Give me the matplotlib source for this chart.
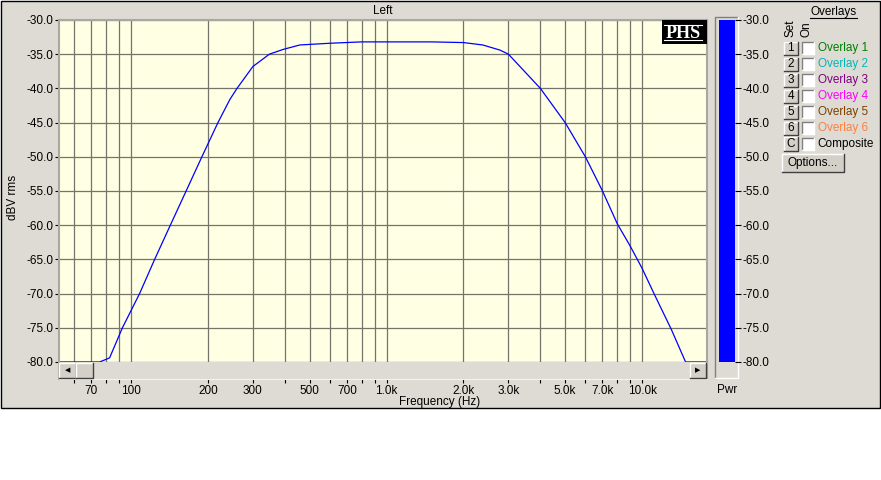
import matplotlib
matplotlib.use("Agg")
import matplotlib.pyplot as plt
from matplotlib.patches import Rectangle
from matplotlib.lines import Line2D

# measured response, Left channel
freq_hz = [52.3, 75.4, 82.5, 92.6, 108.1, 123.8, 142.6, 164.4, 189.5, 219, 244, 260,
           300, 348, 394, 458, 600, 800, 1000, 1500, 2000, 2380, 2780, 3000,
           4000, 5000, 6000, 7000, 8000, 9000, 10000, 11200, 13000, 14800, 17900]
level_db = [-80, -80, -79.4, -75, -70, -65, -60, -55, -50, -45, -41.6, -40,
            -36.8, -35, -34.3, -33.65, -33.4, -33.2, -33.2, -33.2, -33.3, -33.65, -34.4, -35.0,
            -40, -45, -50, -55, -59.8, -63.1, -66.3, -70.2, -75.2, -80, -80]
pwr_level = -30.0

major_f = [70, 100, 200, 300, 500, 700, 1000, 2000, 3000, 5000, 7000, 10000]
major_lbl = ['70', '100', '200', '300', '500', '700', '1.0k', '2.0k', '3.0k', '5.0k', '7.0k', '10.0k']
minor_f = [60, 80, 90, 400, 600, 800, 900, 4000, 6000, 8000, 9000]
y_ticks = [-30, -35, -40, -45, -50, -55, -60, -65, -70, -75, -80]

overlay_names = ['Overlay 1', 'Overlay 2', 'Overlay 3', 'Overlay 4', 'Overlay 5', 'Overlay 6', 'Composite']
overlay_keys = ['1', '2', '3', '4', '5', '6', 'C']
overlay_colors = ['#008000', '#00b8b8', '#800080', '#ff00ff', '#804000', '#ff8040', 'black']

plt.rcParams['font.family'] = ['Liberation Sans', 'DejaVu Sans']
plt.rcParams['font.size'] = 8.5

W, H = 881, 480
PANEL = '#dddbd3'
GRID = '#74746c'


def box(x0, y0, x1, y1):
    return [x0 / W, 1 - y1 / H, (x1 - x0) / W, (y1 - y0) / H]


def fx(x):
    return x / W


def fy(y):
    return 1 - y / H


def bevel(fig, x0, y0, x1, y1, raised=True, face='#d4d0c8', z=5):
    fig.add_artist(Rectangle((fx(x0), fy(y1)), (x1 - x0) / W, (y1 - y0) / H,
                             transform=fig.transFigure, facecolor=face, edgecolor='none', zorder=z))
    light, dark = ('white', '#404040') if raised else ('#808080', 'white')
    fig.add_artist(Line2D([fx(x0), fx(x0), fx(x1)], [fy(y1), fy(y0), fy(y0)],
                          color=light, lw=1, transform=fig.transFigure, zorder=z))
    fig.add_artist(Line2D([fx(x0), fx(x1), fx(x1)], [fy(y1), fy(y1), fy(y0)],
                          color=dark, lw=1, transform=fig.transFigure, zorder=z))


fig = plt.figure(figsize=(W / 100, H / 100), dpi=100, facecolor='white')

# window panel
fig.add_artist(Rectangle((fx(0.5), fy(408)), 879.5 / W, 407.5 / H, transform=fig.transFigure,
                         facecolor=PANEL, edgecolor='black', lw=1, zorder=-10))

# main plot
ax = fig.add_axes(box(59, 20, 706.7, 362))
ax.set_facecolor('#ffffe4')
ax.semilogx(freq_hz, level_db, color='#0000ff', lw=0.9, clip_on=False, zorder=3)
ax.set_xlim(52.3, 17900)
ax.set_ylim(-80, -30)
ax.set_xticks(major_f)
ax.set_xticks(minor_f, minor=True)
ax.set_yticks(y_ticks)
ax.set_yticklabels(['%.1f' % v for v in y_ticks])
ax.grid(True, which='both', color=GRID, lw=0.9)
ax.tick_params(axis='x', which='both', length=0, labelbottom=False)
ax.tick_params(axis='y', length=3, width=0.8, pad=1.2, color='black')
for s in ['top', 'left', 'right']:
    ax.spines[s].set_color('#a8a8a0')
    ax.spines[s].set_linewidth(1.5)
ax.spines['bottom'].set_visible(False)
ax.set_title('Left', fontsize=8.5, pad=4)
fig.text(fx(13), fy(197), 'dBV rms', rotation=90, ha='center', va='center')

# PHS logo
ax.add_patch(Rectangle((0.9305, 0.930), 0.0715, 0.071, transform=ax.transAxes,
                       facecolor='black', edgecolor='none', zorder=5))
fig.text(fx(683), fy(33), 'PHS', color='white', fontsize=13, fontweight='bold',
         family='Liberation Serif', ha='center', va='center', zorder=6)
for yy in [25, 40]:
    fig.add_artist(Line2D([fx(664), fx(702)], [fy(yy), fy(yy)], color='white', lw=0.8,
                          transform=fig.transFigure, zorder=6))

# scroll strip with the frequency axis
sx = fig.add_axes(box(59, 362, 706.7, 379))
sx.set_facecolor(PANEL)
sx.set_xscale('log')
sx.set_xlim(52.3, 17900)
sx.set_yticks([])
sx.set_xticks(major_f)
sx.set_xticklabels(major_lbl)
sx.set_xticks(minor_f, minor=True)
sx.tick_params(axis='x', which='both', length=3, width=0.8, pad=1.5)
for s in ['left', 'right']:
    sx.spines[s].set_color('#a8a8a0')
    sx.spines[s].set_linewidth(1.5)
sx.spines['bottom'].set_color('#f4f4ee')
sx.spines['top'].set_visible(False)
fig.text(fx(440), fy(402), 'Frequency (Hz)', ha='center', va='center')

bevel(fig, 59, 362.5, 76, 378)
bevel(fig, 76, 362.5, 93, 378)
bevel(fig, 690, 362.5, 706, 378)
fig.text(fx(67.5), fy(370.5), '\u25c0', family='DejaVu Sans', fontsize=5, ha='center', va='center', zorder=6)
fig.text(fx(698), fy(370.5), '\u25b6', family='DejaVu Sans', fontsize=5, ha='center', va='center', zorder=6)

# power meter
bevel(fig, 715, 17, 738, 378, raised=False, face=PANEL, z=-5)
px = fig.add_axes(box(719, 20, 735, 362))
px.set_facecolor(PANEL)
px.bar([0], [pwr_level + 80], bottom=-80, width=1.0, color='#0000ff')
px.set_xlim(-0.5, 0.5)
px.set_ylim(-80, -30)
px.set_xticks([])
px.set_yticks(y_ticks)
px.set_yticklabels(['%.1f' % v for v in y_ticks])
px.yaxis.tick_right()
px.tick_params(axis='y', length=4, width=0.8, pad=1.5)
for s in px.spines.values():
    s.set_visible(False)
fig.text(fx(727.5), fy(390), 'Pwr', ha='center', va='center')

# overlays panel
fig.text(fx(833.5), fy(12.5), 'Overlays', ha='center', va='center')
fig.add_artist(Line2D([fx(810), fx(857)], [fy(17.5), fy(17.5)], color='black', lw=0.8,
                      transform=fig.transFigure))
fig.text(fx(791), fy(37), 'Set', rotation=90, ha='center', va='bottom')
fig.text(fx(806.5), fy(37), 'On', rotation=90, ha='center', va='bottom')
for i, (key, name, col) in enumerate(zip(overlay_keys, overlay_names, overlay_colors)):
    yc = 48 + 16 * i
    bevel(fig, 784, yc - 6.5, 797.5, yc + 6.5)
    fig.text(fx(790.5), fy(yc), key, ha='center', va='center', zorder=6)
    bevel(fig, 802, yc - 6, 814, yc + 6, raised=False, face='white')
    fig.text(fx(817.5), fy(yc), name, color=col, ha='left', va='center')

bevel(fig, 782, 153.5, 844, 171.5)
fig.text(fx(813), fy(162.5), 'Options...', ha='center', va='center', zorder=6)

fig.savefig('out.png', dpi=100, facecolor='white')
